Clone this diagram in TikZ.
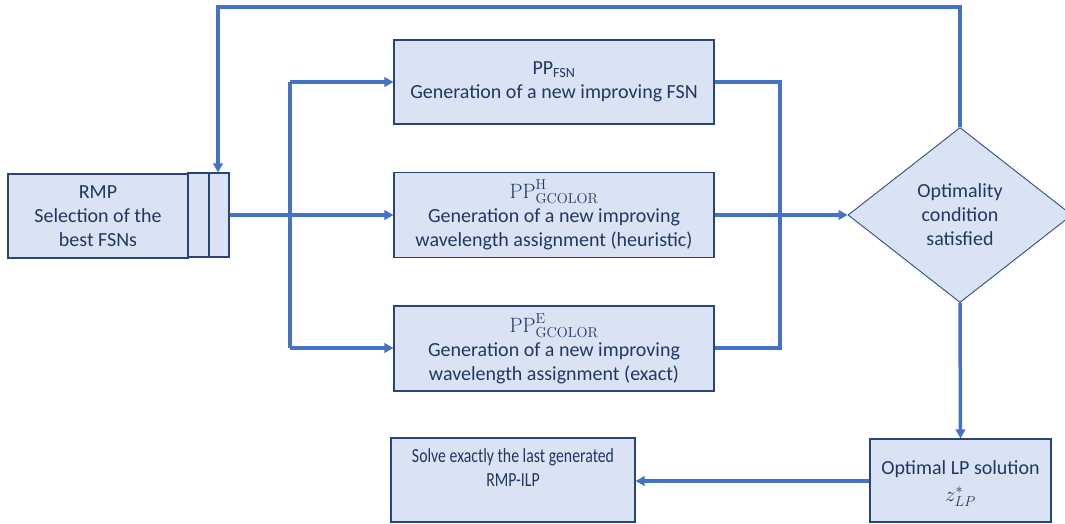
\documentclass[tikz,border=0pt]{standalone}
\usepackage[no-math]{fontspec}
\setmainfont{Carlito}
\usetikzlibrary{arrows.meta,shapes.geometric}
\definecolor{boxfill}{HTML}{DAE3F3}
\definecolor{boxline}{HTML}{2A4478}
\definecolor{flow}{HTML}{4472C4}
\definecolor{txt}{HTML}{1F3864}
\begin{document}
\begin{tikzpicture}[x=1pt,y=-1pt,
  box/.style={draw=boxline, line width=1.1pt, fill=boxfill, inner sep=0pt,
    align=center, text=txt, font=\fontsize{20}{24}\selectfont},
  decide/.style={diamond, draw=boxline!80!flow, line width=0.9pt, fill=boxfill,
    inner sep=0pt, minimum width=224pt, minimum height=175pt,
    align=center, text=txt, font=\fontsize{20}{24}\selectfont},
  label/.style={text=txt, font=\fontsize{20}{24}\selectfont, align=center},
  flowline/.style={draw=flow, line width=3.5pt},
  flowarrow/.style={flowline, -{Triangle[length=9pt,width=9.5pt]}}]
\useasboundingbox (0,0) rectangle (1065,523);

% restricted master problem with its two column slots
\node[box, minimum width=180pt, minimum height=84pt] (rmp) at (98,216)
  {RMP\\Selection of the\\best FSNs};
\node[box, minimum width=21pt, minimum height=84pt] (rmpa) at (198.5,215) {};
\node[box, minimum width=20pt, minimum height=84pt] (rmpb) at (219,215) {};

% pricing problems
\node[box, minimum width=320pt, minimum height=84pt] (ppfsn) at (554,82)
  {PP\textsubscript{FSN}\\Generation of a new improving FSN};
\node[box, minimum width=320pt, minimum height=85pt] (pph) at (554,215)
  {$\mathrm{PP}^{\mathrm{H}}_{\mathrm{GCOLOR}}$\\Generation of a new improving\\wavelength assignment (heuristic)};
\node[box, minimum width=320pt, minimum height=85pt] (ppe) at (554,348.5)
  {$\mathrm{PP}^{\mathrm{E}}_{\mathrm{GCOLOR}}$\\Generation of a new improving\\wavelength assignment (exact)};

% optimality test and final steps
\node[decide] (opt) at (960,215) {Optimality\\condition\\satisfied};
\node[box, minimum width=181pt, minimum height=83pt] (lp) at (960.5,480.5)
  {};
\node[label, anchor=north] (lptext) at (960.5,457)
  {Optimal LP solution\\[3pt]$z^{*}_{LP}$};
\node[box, minimum width=244pt, minimum height=84pt] (ilp) at (513,480) {};
\node[label, anchor=north] (ilptext) at (513,445)
  {\scalebox{0.79}[1]{Solve exactly the last generated}\\\scalebox{0.79}[1]{RMP-ILP}};

% routing points
\coordinate (split) at (290,215);
\coordinate (splittop) at (290,82);
\coordinate (splitbot) at (290,348);
\coordinate (jointop) at (780,82);
\coordinate (join) at (780,215);
\coordinate (joinbot) at (780,348);
\coordinate (loopr) at (960,7);
\coordinate (loopl) at (218,7);
\coordinate (exit) at (0,481);

% fan-out from the master problem
\draw[flowarrow] (rmpb.east |- split) -- (pph.west |- split);
\draw[flowline] (splittop) -- (splitbot);
\draw[flowarrow] (splittop) -- (ppfsn.west |- splittop);
\draw[flowarrow] (splitbot) -- (ppe.west |- splitbot);

% fan-in to the optimality test
\draw[flowline] (ppfsn.east |- jointop) -- (jointop) -- (joinbot) -- (ppe.east |- joinbot);
\draw[flowarrow] (pph.east |- join) -- (opt.west);

% loop back to the master problem
\draw[flowarrow] (opt.north) -- (loopr) -- (loopl) -- (loopl |- rmpb.north);

% exit path
\draw[flowarrow] (opt.south) -- (lp.north);
\draw[flowarrow] (lp.west |- exit) -- (ilp.east |- exit);
\end{tikzpicture}
\end{document}
